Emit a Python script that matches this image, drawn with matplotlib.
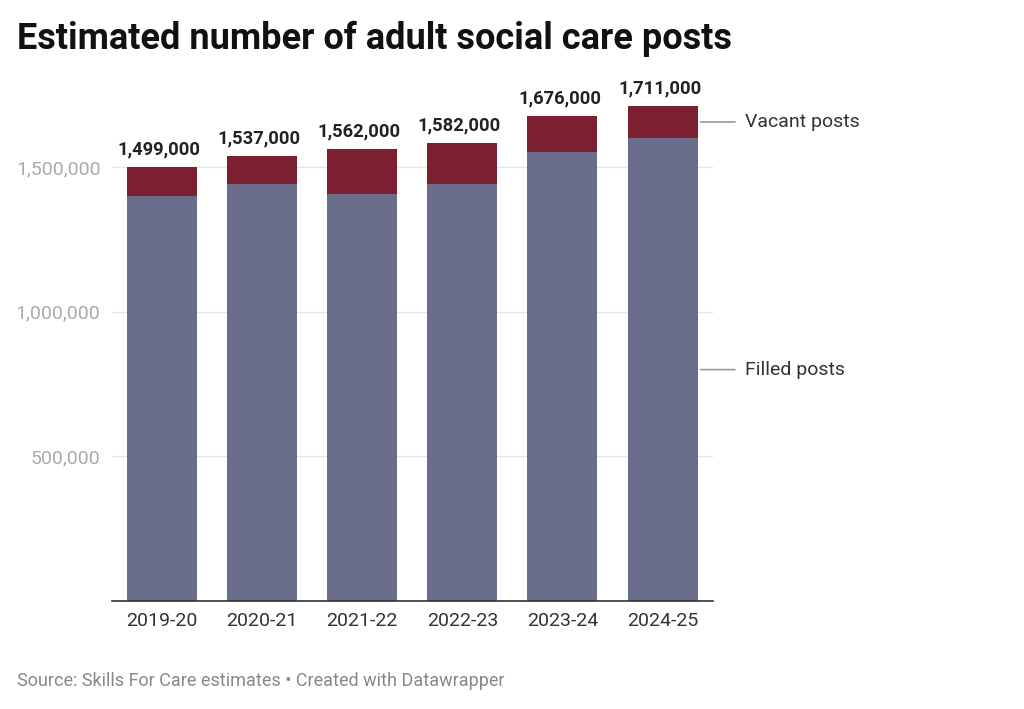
import numpy as np
import matplotlib.pyplot as plt

plt.rcParams['font.family'] = ['Roboto', 'DejaVu Sans']

# data
years = ['2019-20', '2020-21', '2021-22', '2022-23', '2023-24', '2024-25']
totals = [1499000, 1537000, 1562000, 1582000, 1676000, 1711000]
filled = [1400000, 1440000, 1408000, 1440000, 1552000, 1600000]
vacant = [t - f for t, f in zip(totals, filled)]
yticks = [500000, 1000000, 1500000]

c_filled = '#6a6d8a'
c_vacant = '#7b1f31'

fig = plt.figure(figsize=(10.24, 7.09), dpi=100)
ax = fig.add_axes([0.109, 0.152, 0.587, 0.735])

x = np.arange(len(years))
ax.bar(x, filled, width=0.7, color=c_filled, zorder=2)
ax.bar(x, vacant, bottom=filled, width=0.7, color=c_vacant, zorder=2)

for xi, t in zip(x, totals):
    ax.annotate(f'{t:,}', (xi, t), xytext=(-2, 6), textcoords='offset points',
                ha='center', va='bottom', fontsize=13.2, fontweight='bold', color='#222222')

ax.set_xlim(-0.5, 5.5)
ax.set_ylim(0, 1800000)
ax.set_yticks(yticks)
ax.set_yticklabels([f'{v:,}' for v in yticks])
ax.set_xticks(x)
ax.set_xticklabels(years)
ax.grid(axis='y', color='#e6e6e6', linewidth=1, zorder=0)
ax.tick_params(axis='y', length=0, pad=8, labelsize=14, labelcolor='#aaaaaa')
ax.tick_params(axis='x', length=0, pad=8, labelsize=14, labelcolor='#333333')
for s in ['top', 'right', 'left']:
    ax.spines[s].set_visible(False)
ax.spines['bottom'].set_color('#333333')
ax.spines['bottom'].set_linewidth(1.2)

# direct labels for the series, next to last bar
last = len(years) - 1
for ymid, lab in [(filled[last] + vacant[last] / 2, 'Vacant posts'),
                  (filled[last] / 2, 'Filled posts')]:
    ax.annotate('', xy=(last + 0.35, ymid), xytext=(last + 0.75, ymid),
                arrowprops=dict(arrowstyle='-', color='#999999', lw=1.2),
                annotation_clip=False)
    ax.text(last + 0.82, ymid, lab, ha='left', va='center', fontsize=14,
            color='#333333', clip_on=False)

fig.text(0.017, 0.945, 'Estimated number of adult social care posts',
         fontsize=26, fontweight='bold', color='#111111', ha='left', va='center')
fig.text(0.017, 0.039, 'Source: Skills For Care estimates \u2022 Created with Datawrapper',
         fontsize=13, color='#888888', ha='left', va='center')

fig.savefig('out.png', dpi=100)
